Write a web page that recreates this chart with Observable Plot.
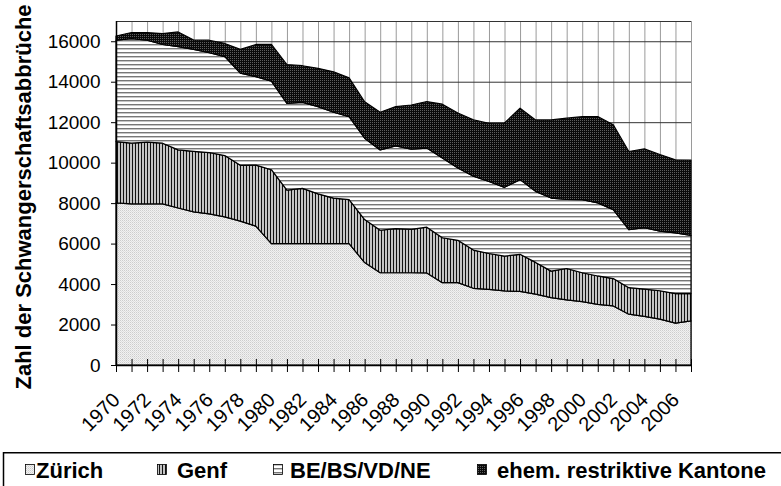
<!DOCTYPE html>
<html><head><meta charset="utf-8">
<script src="https://cdn.jsdelivr.net/npm/d3@7"></script>
<script src="https://cdn.jsdelivr.net/npm/@observablehq/plot@0.6"></script>
<style>
html,body{margin:0;padding:0;background:#fff}
body{width:781px;height:486px;overflow:hidden;position:relative;font-family:"Liberation Sans",Arial,sans-serif}
#chart{position:absolute;left:0;top:0}
#legend{position:absolute;left:0;top:452px}
</style></head><body>
<svg width="0" height="0" style="position:absolute;left:0;top:0">
<defs>
<pattern id="pZ" width="2" height="2" patternUnits="userSpaceOnUse">
 <rect width="2" height="2" fill="#f1f1f1"/><rect width="1" height="1" fill="#cdcdcd"/><rect x="1" y="1" width="1" height="1" fill="#dedede"/>
</pattern>
<pattern id="pG" width="3" height="3" patternUnits="userSpaceOnUse">
 <rect width="3" height="3" fill="#c4c4c4"/><rect width="1" height="3" fill="#111"/>
</pattern>
<pattern id="pB" width="4" height="4" patternUnits="userSpaceOnUse">
 <rect width="4" height="4" fill="#fff"/><rect y="0" width="4" height="1" fill="#777"/><rect y="1" width="4" height="1" fill="#c6c6c6"/>
</pattern>
<pattern id="pR" width="2" height="2" patternUnits="userSpaceOnUse">
 <rect width="2" height="2" fill="#0a0a0a"/><rect width="1" height="1" fill="#5e5e5e"/>
</pattern>
</defs></svg>
<div id="chart"></div>
<div id="legend"></div>
<script>
const years = d3.range(1970, 2008);
const labelYears = d3.range(1970, 2007, 2);
const yTicks = d3.range(0, 16001, 2000);
const names = ["Zürich", "Genf", "BE/BS/VD/NE", "ehem. restriktive Kantone"];
const fills = ["url(#pZ)", "url(#pG)", "url(#pB)", "url(#pR)"];
const yTitle = "Zahl der Schwangerschaftsabbrüche";

const zuerich = [8010, 7960, 7960, 7960, 7760, 7570, 7470, 7320, 7110, 6860, 6000, 6000, 6000, 6000, 6000, 6000, 5060, 4560, 4560, 4560, 4550, 4070, 4070, 3790, 3740, 3660, 3640, 3500, 3330, 3220, 3130, 3000, 2920, 2510, 2400, 2270, 2070, 2180];
const genf = [3030, 3000, 3050, 3000, 2870, 2990, 3030, 3030, 2760, 3020, 3650, 2640, 2730, 2460, 2250, 2170, 2130, 2100, 2180, 2140, 2260, 2220, 2090, 1890, 1770, 1720, 1830, 1570, 1310, 1550, 1430, 1400, 1350, 1310, 1350, 1400, 1460, 1350];
const be = [5010, 5170, 5040, 4880, 5100, 5040, 4930, 4890, 4550, 4370, 4380, 4290, 4250, 4310, 4240, 4100, 4020, 3970, 4090, 3970, 3910, 3940, 3580, 3650, 3560, 3400, 3690, 3510, 3610, 3410, 3610, 3610, 3410, 2870, 3040, 2950, 3000, 2870];
const restr = [210, 300, 380, 540, 730, 460, 620, 650, 1180, 1590, 1810, 1920, 1810, 1890, 2000, 1920, 1800, 1860, 1940, 2180, 2300, 2660, 2710, 2790, 2870, 3180, 3530, 3530, 3860, 4020, 4100, 4270, 4190, 3860, 3890, 3780, 3610, 3730];

const series = [zuerich, genf, be, restr];
const data = [];
names.forEach((n, k) => years.forEach((y, i) => data.push({year: y, series: n, value: series[k][i]})));

const font = "Liberation Sans, Arial, sans-serif";
const chart = Plot.plot({
  width: 781, height: 452,
  marginLeft: 116, marginRight: 90, marginTop: 21, marginBottom: 87,
  style: {fontFamily: font, color: "#000", background: "transparent", overflow: "visible"},
  x: {domain: [1970, 2007]},
  y: {domain: [0, 17000]},
  color: {domain: names, range: fills},
  marks: [
    Plot.ruleX(years, {x: d => d, stroke: "#9a9a9a", strokeWidth: 1}),
    Plot.ruleY(yTicks.concat([17000]), {y: d => d, stroke: "#333", strokeWidth: 1}),
    Plot.areaY(data, {x: "year", y: "value", z: "series", fill: "series", order: names, stroke: "#000", strokeWidth: 1.2, strokeLinejoin: "round"}),
    Plot.ruleY([0], {stroke: "#000", strokeWidth: 1.5}),
    Plot.ruleX([1970], {stroke: "#000", strokeWidth: 1.5}),
    Plot.axisY({ticks: yTicks, tickSize: 5, tickPadding: 11, fontSize: 19, tickFormat: d3.format("d"), label: null, stroke: "#000"}),
    Plot.axisX({ticks: years, tickSize: 13, dy: -6, tickFormat: () => "", label: null}),
    Plot.axisX({ticks: labelYears, tickSize: 0, tickRotate: -45, tickPadding: 31, fontSize: 20, tickFormat: d => String(d), label: null})
  ]
});
d3.select(chart).append("text")
  .attr("transform", "translate(31,197) rotate(-90)")
  .attr("text-anchor", "middle")
  .attr("font-family", font)
  .attr("font-size", 22)
  .attr("font-weight", "bold")
  .attr("fill", "#000")
  .text(yTitle);
document.getElementById("chart").appendChild(chart);

// legend
const leg = d3.select("#legend").append("svg").attr("width", 781).attr("height", 34);
leg.append("rect").attr("x", 3.5).attr("y", 0.75).attr("width", 820).attr("height", 60)
  .attr("fill", "none").attr("stroke", "#000").attr("stroke-width", 1.5);
const swX = [25, 157, 273, 477];
const txX = [36, 177, 290, 497];
names.forEach((n, k) => {
  leg.append("rect").attr("x", swX[k] + 0.5).attr("y", 12.5).attr("width", 9).attr("height", 10)
    .attr("fill", fills[k]).attr("stroke", "#000").attr("stroke-width", 0.8);
  leg.append("text").attr("x", txX[k]).attr("y", 26).attr("font-family", font)
    .attr("font-size", 22).attr("font-weight", "bold").attr("fill", "#000").text(n);
});
</script>
</body></html>
